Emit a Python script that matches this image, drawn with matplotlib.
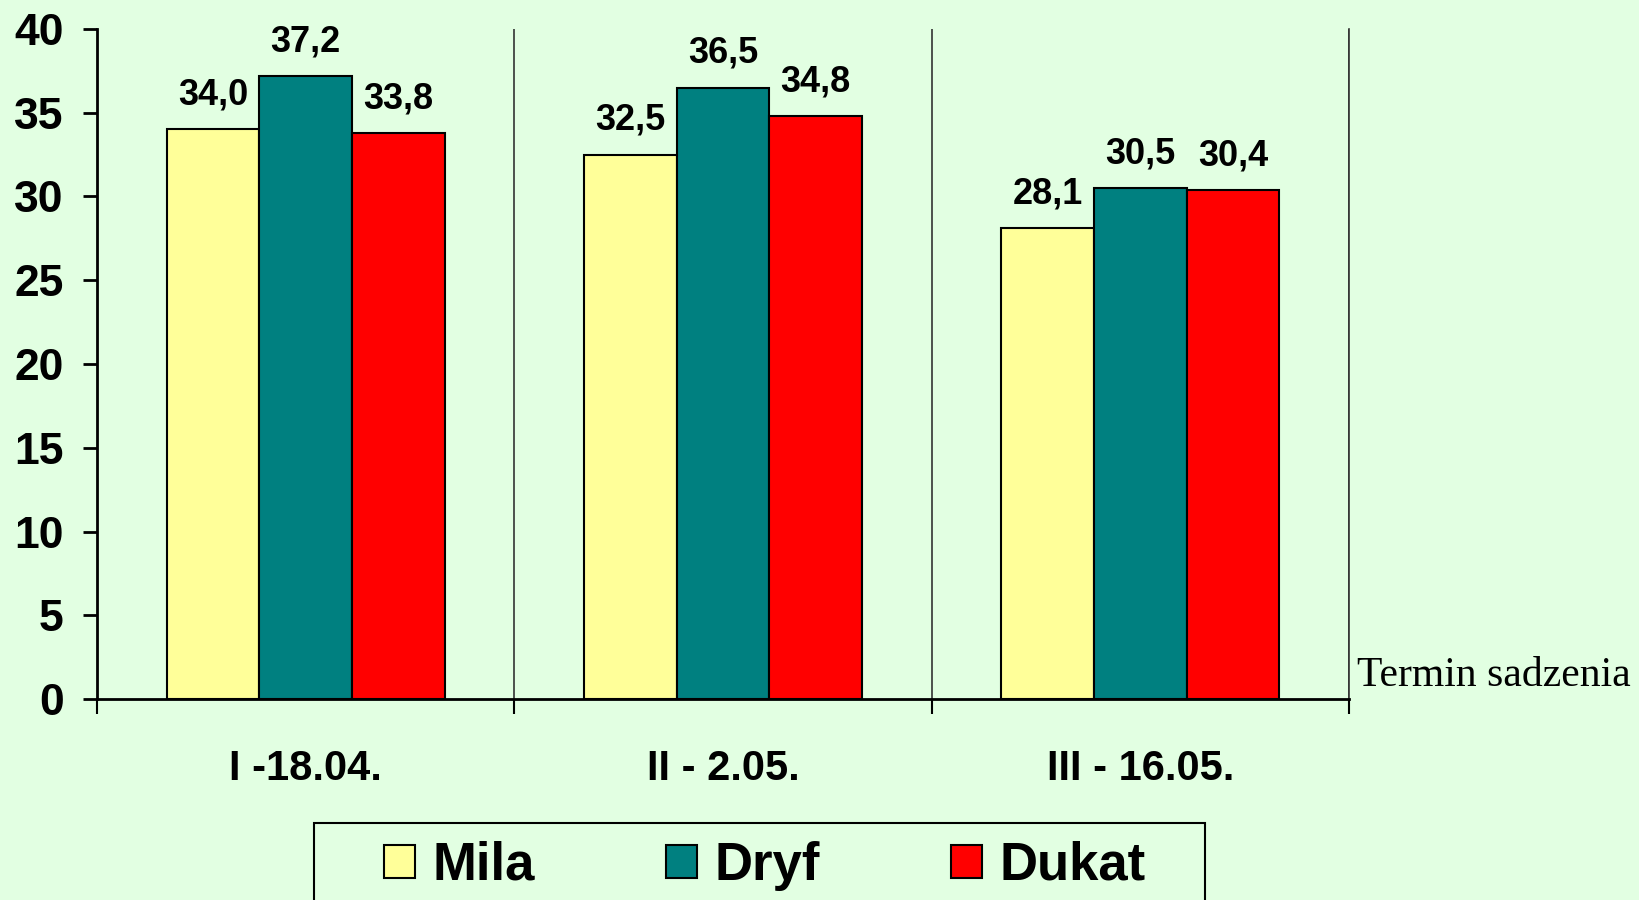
import numpy as np
import matplotlib.pyplot as plt
from matplotlib.patches import Rectangle

# data
terms = ["I -18.04.", "II - 2.05.", "III - 16.05."]
mila = [34.0, 32.5, 28.1]
dryf = [37.2, 36.5, 30.5]
dukat = [33.8, 34.8, 30.4]
y_ticks = [0, 5, 10, 15, 20, 25, 30, 35, 40]

bg = "#E2FFE2"
plt.rcParams['font.family'] = ['Liberation Sans', 'DejaVu Sans']

fig = plt.figure(figsize=(16.39, 9.0), dpi=100, facecolor=bg)
ax = fig.add_axes([0.0592, 0.2233, 0.7638, 0.7445])
ax.set_facecolor(bg)

x = np.arange(len(terms))
w = 0.222
series = [("Mila", mila, "#FFFF99"), ("Dryf", dryf, "#008080"), ("Dukat", dukat, "#FF0000")]
for i, (name, vals, col) in enumerate(series):
    bars = ax.bar(x + (i - 1) * w, vals, w, color=col, edgecolor="black", linewidth=1.5, label=name, zorder=3)
    ax.bar_label(bars, labels=[("%.1f" % v).replace(".", ",") for v in vals],
                 padding=12, fontsize=26, fontweight="bold")

ax.set_xlim(-0.5, 2.5)
ax.set_ylim(0, 40)
ax.set_yticks(y_ticks)
ax.tick_params(axis="y", length=10, width=2, pad=14, labelsize=32)
for t in ax.get_yticklabels():
    t.set_fontweight("bold")

# ticks and gridlines at category boundaries, labels at centres
ax.set_xticks([-0.5, 0.5, 1.5, 2.5])
ax.set_xticklabels([])
ax.tick_params(axis="x", which="major", length=11, width=1.5)
ax.set_xticks(x, minor=True)
ax.set_xticklabels(terms, minor=True, fontsize=30, fontweight="bold")
ax.tick_params(axis="x", which="minor", length=0, pad=36)
ax.grid(axis="x", which="major", color="#333333", linewidth=1.2, zorder=1)

ax.spines["top"].set_visible(False)
ax.spines["right"].set_linewidth(1.2)
ax.spines["right"].set_color("#333333")
ax.spines["left"].set_linewidth(2)
ax.spines["bottom"].set_linewidth(2)

fig.text(0.828, 0.249, "Termin sadzenia", fontsize=30, family="Liberation Serif", va="center", ha="left")

# legend box, runs off the bottom edge as in the reference
fig.patches.append(Rectangle((314 / 1639, -0.05), 891 / 1639, 0.05 + 77 / 900, transform=fig.transFigure,
                             facecolor=bg, edgecolor="black", linewidth=1.5, zorder=0))
leg = fig.legend(loc="center", bbox_to_anchor=(0.4667, 0.0378), ncol=3, frameon=False,
                 prop={"size": 38, "weight": "bold"}, handlelength=0.58, handleheight=0.58,
                 handletextpad=0.34, columnspacing=2.48, borderaxespad=0)
for h in leg.legend_handles:
    h.set_linewidth(1.5)

fig.savefig("out.png", dpi=100, facecolor=bg)
